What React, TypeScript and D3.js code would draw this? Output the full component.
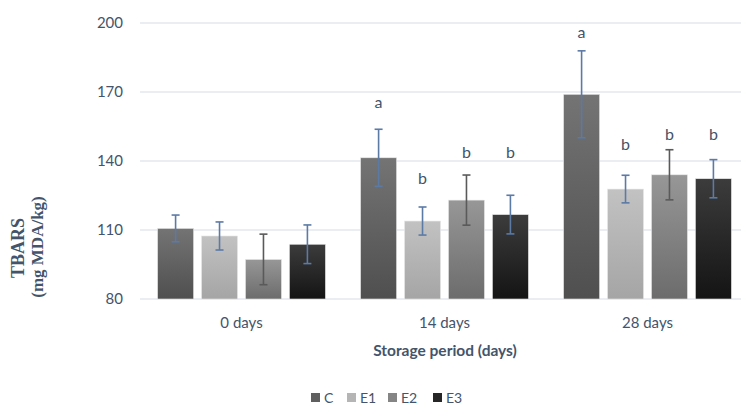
import React from "react";
import * as d3 from "d3";

const categories = ["0 days", "14 days", "28 days"];
const seriesNames = ["C", "E1", "E2", "E3"];
const valuesC = [110.7, 141.4, 169.0];
const valuesE1 = [107.4, 113.9, 127.8];
const valuesE2 = [97.2, 123.0, 134.0];
const valuesE3 = [103.8, 116.7, 132.3];
const errC = [5.8, 12.4, 18.9];
const errE1 = [6.1, 6.1, 6.0];
const errE2 = [11.0, 10.9, 10.9];
const errE3 = [8.4, 8.4, 8.3];
const lettersC = ["", "a", "a"];
const lettersE1 = ["", "b", "b"];
const lettersE2 = ["", "b", "b"];
const lettersE3 = ["", "b", "b"];
const letterPosC = [0, 165.3, 195.7];
const letterPosE1 = [0, 132.2, 147.0];
const letterPosE2 = [0, 143.5, 151.3];
const letterPosE3 = [0, 143.5, 151.3];
const yTicks = [80, 110, 140, 170, 200];

const values = [valuesC, valuesE1, valuesE2, valuesE3];
const errs = [errC, errE1, errE2, errE3];
const letters = [lettersC, lettersE1, lettersE2, lettersE3];
const letterPos = [letterPosC, letterPosE1, letterPosE2, letterPosE3];

const grads = [
  ["#747474", "#4f4f4f"],
  ["#c2c2c2", "#a5a5a5"],
  ["#979797", "#6c6c6c"],
  ["#3c3c3c", "#141414"],
];
const legendColors = ["#5f5f5f", "#b5b5b5", "#858585", "#262626"];
const errColors = ["#5b7aa6", "#5b7aa6", "#5a5a5a", "#5b7aa6"];
const textColor = "#44546a";
const font = "Lato, 'Open Sans', sans-serif";

export default function App() {
  const W = 741, H = 407;
  const y = d3.scaleLinear().domain([80, 200]).range([299, 23]);
  const x0 = d3.scaleBand().domain(categories).range([140, 749]).paddingInner(0).paddingOuter(0);
  const x1 = d3.scaleBand().domain(seriesNames).range([0, x0.bandwidth()]).paddingInner(0.18).paddingOuter(0.4);

  const legendX = [311, 347, 388, 433];

  return (
    <svg width={W} height={H} style={{ position: "absolute", left: 0, top: 0, display: "block" }}>
      <defs>
        {grads.map((g, i) => (
          <linearGradient key={i} id={`g${i}`} x1="0" y1="0" x2="0" y2="1">
            <stop offset="0%" stopColor={g[0]} />
            <stop offset="100%" stopColor={g[1]} />
          </linearGradient>
        ))}
      </defs>
      <rect width={W} height={H} fill="#fff" />
      {yTicks.map((t) => (
        <g key={t}>
          <line x1={140} x2={741} y1={y(t)} y2={y(t)} stroke="#d6dde8" strokeWidth={1.2} />
          <text x={123} y={y(t)} dy="0.35em" textAnchor="end" fontFamily={font} fontSize={15} fill={textColor}>{t}</text>
        </g>
      ))}
      {categories.map((c, ci) => (
        <g key={c} transform={`translate(${x0(c)},0)`}>
          {seriesNames.map((s, si) => {
            const v = values[si][ci];
            const e = errs[si][ci];
            const bx = x1(s)!;
            const bw = x1.bandwidth();
            const cx = bx + bw / 2;
            return (
              <g key={s}>
                <rect x={bx} y={y(v)} width={bw} height={y(80) - y(v)} fill={`url(#g${si})`} stroke="#e8e8e8" strokeWidth={0.6} />
                <line x1={cx} x2={cx} y1={y(v + e)} y2={y(v - e)} stroke={errColors[si]} strokeWidth={1.6} />
                <line x1={cx - 4} x2={cx + 4} y1={y(v + e)} y2={y(v + e)} stroke={errColors[si]} strokeWidth={1.6} />
                <line x1={cx - 4} x2={cx + 4} y1={y(v - e)} y2={y(v - e)} stroke={errColors[si]} strokeWidth={1.6} />
                {letters[si][ci] && (
                  <text x={cx} y={y(letterPos[si][ci])} dy="0.3em" textAnchor="middle" fontFamily={font} fontSize={16} fill={textColor}>{letters[si][ci]}</text>
                )}
              </g>
            );
          })}
          <text x={x0.bandwidth() / 2} y={328} textAnchor="middle" fontFamily={font} fontSize={15} fill={textColor}>{c}</text>
        </g>
      ))}
      <text x={445} y={356} textAnchor="middle" fontFamily={font} fontSize={15.5} fontWeight="bold" fill={textColor}>Storage period (days)</text>
      <g transform="translate(18,248) rotate(-90)">
        <text x={0} y={0} dy="0.35em" textAnchor="middle" fontFamily="'Liberation Serif', 'DejaVu Serif', serif" fontSize={18} fontWeight="bold" fill={textColor}>TBARS</text>
      </g>
      <g transform="translate(37,247) rotate(-90)">
        <text x={0} y={0} dy="0.35em" textAnchor="middle" fontFamily="'Liberation Serif', 'DejaVu Serif', serif" fontSize={17} fontWeight="bold" fill={textColor}>(mg MDA/kg)</text>
      </g>
      {seriesNames.map((s, i) => (
        <g key={s} transform={`translate(${legendX[i]},0)`}>
          <rect x={0} y={393} width={9} height={9} fill={legendColors[i]} />
          <text x={13} y={402.5} fontFamily={font} fontSize={14} fill={textColor}>{s}</text>
        </g>
      ))}
    </svg>
  );
}
